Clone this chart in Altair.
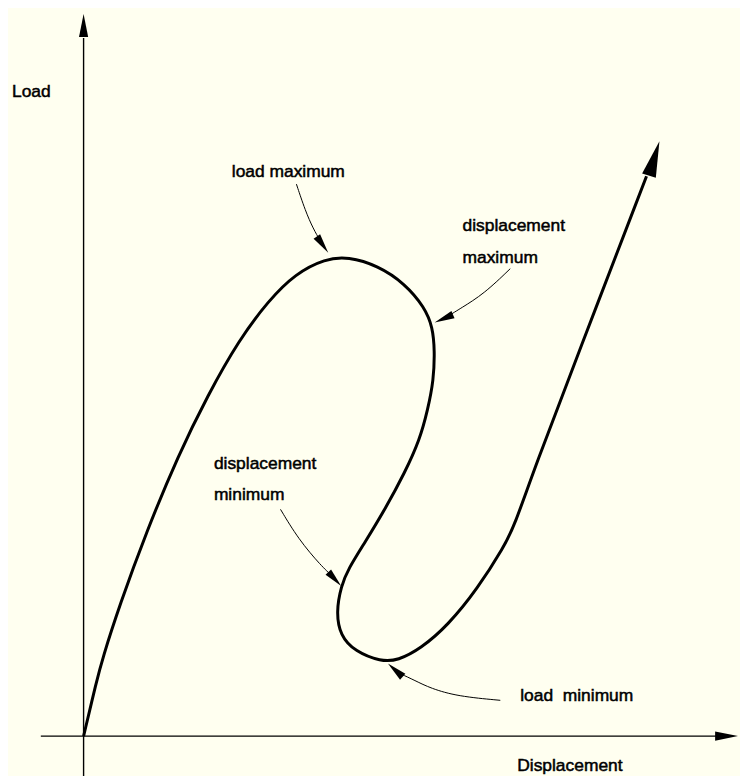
import altair as alt
import pandas as pd

# load-displacement path (displacement, load)
path_disp = [0.00, 0.13, 0.19, 0.36, 0.63, 0.95, 1.25, 1.56, 1.86, 2.13, 2.43, 2.66,
             2.96, 3.23, 3.43, 3.51, 3.53, 3.52, 3.46, 3.38, 3.23, 3.03, 2.83, 2.66,
             2.59, 2.54, 2.58, 2.73, 2.99, 3.16, 3.39, 3.66, 3.96, 4.23, 4.33, 4.54,
             4.96, 5.66]
path_load = [0.00, 0.55, 0.78, 1.31, 2.05, 2.82, 3.43, 3.98, 4.38, 4.65, 4.80, 4.82,
             4.73, 4.55, 4.31, 4.11, 3.88, 3.58, 3.28, 2.98, 2.65, 2.28, 1.95, 1.68,
             1.51, 1.25, 1.01, 0.85, 0.75, 0.76, 0.88, 1.11, 1.48, 1.91, 2.11, 2.71,
             3.81, 5.63]

# axis lines
axis_id = ["load", "load", "disp", "disp"]
axis_x = [0.00, 0.00, -0.43, 6.36]
axis_y = [-0.44, 7.02, 0.00, 0.00]

# callout leaders
leader_id = [1, 1, 1, 1, 2, 2, 2, 2, 3, 3, 3, 3, 4, 4, 4, 4, 4]
leader_x = [2.14, 2.23, 2.31, 2.38,
            4.29, 4.03, 3.79, 3.66,
            1.98, 2.16, 2.39, 2.51,
            4.19, 3.76, 3.49, 3.33, 3.18]
leader_y = [5.55, 5.28, 5.10, 4.98,
            4.70, 4.45, 4.30, 4.22,
            2.28, 1.98, 1.71, 1.60,
            0.36, 0.40, 0.48, 0.56, 0.63]

# arrow heads: tip position, heading (deg, clockwise from up), size
head_x = [5.79, 0.00, 6.58, 2.46, 3.53, 2.59, 3.06]
head_y = [5.98, 7.26, 0.00, 4.86, 4.16, 1.51, 0.73]
head_angle = [17, 0, 90, 145, 247, 137, 312]
head_size = [1296, 529, 529, 400, 400, 360, 400]

# labels
label_text = ["Load", "Displacement", "load maximum", "displacement", "maximum",
              "displacement", "minimum", "load\u00a0 minimum"]
label_x = [-0.72, 4.36, 1.49, 3.81, 3.81, 1.31, 1.31, 4.39]
label_y = [6.43, -0.35, 5.62, 5.08, 4.76, 2.69, 2.37, 0.35]

path_df = pd.DataFrame({"x": path_disp, "y": path_load, "i": range(len(path_disp))})
axis_df = pd.DataFrame({"id": axis_id, "x": axis_x, "y": axis_y, "i": range(len(axis_x))})
leader_df = pd.DataFrame({"id": leader_id, "x": leader_x, "y": leader_y,
                          "i": range(len(leader_x))})
head_df = pd.DataFrame({"x": head_x, "y": head_y, "angle": head_angle, "size": head_size})
label_df = pd.DataFrame({"text": label_text, "x": label_x, "y": label_y})

xs = alt.Scale(domain=[-0.76, 6.60], nice=False, zero=False)
ys = alt.Scale(domain=[-0.38, 7.30], nice=False, zero=False)
X = alt.X("x:Q", scale=xs, axis=None)
Y = alt.Y("y:Q", scale=ys, axis=None)

axes = alt.Chart(axis_df).mark_line(color="black", strokeWidth=1.4).encode(
    X, Y, alt.Detail("id:N"), alt.Order("i:Q")
)
curve = alt.Chart(path_df).mark_line(
    color="black", strokeWidth=3, interpolate="basis"
).encode(X, Y, alt.Order("i:Q"))
leaders = alt.Chart(leader_df).mark_line(
    color="black", strokeWidth=1, interpolate="basis"
).encode(X, Y, alt.Detail("id:N"), alt.Order("i:Q"))
heads = alt.Chart(head_df).mark_point(
    shape="M0,0 L0.4,2 L-0.4,2 Z", filled=True, color="black", opacity=1, strokeWidth=0
).encode(
    X, Y,
    alt.Angle("angle:Q", scale=None),
    alt.Size("size:Q", scale=None),
)
labels = alt.Chart(label_df).mark_text(
    align="left", baseline="alphabetic", font="Liberation Sans", fontSize=17.5,
    color="black", stroke="black", strokeWidth=0.5
).encode(X, Y, alt.Text("text:N"))

chart = alt.layer(axes, curve, leaders, heads, labels).properties(
    width=736, height=768, background="#FFFFF0", padding=0, autosize="none"
).configure_view(stroke=None)

chart.save("out.html", embed_options={"renderer": "svg", "actions": False})
